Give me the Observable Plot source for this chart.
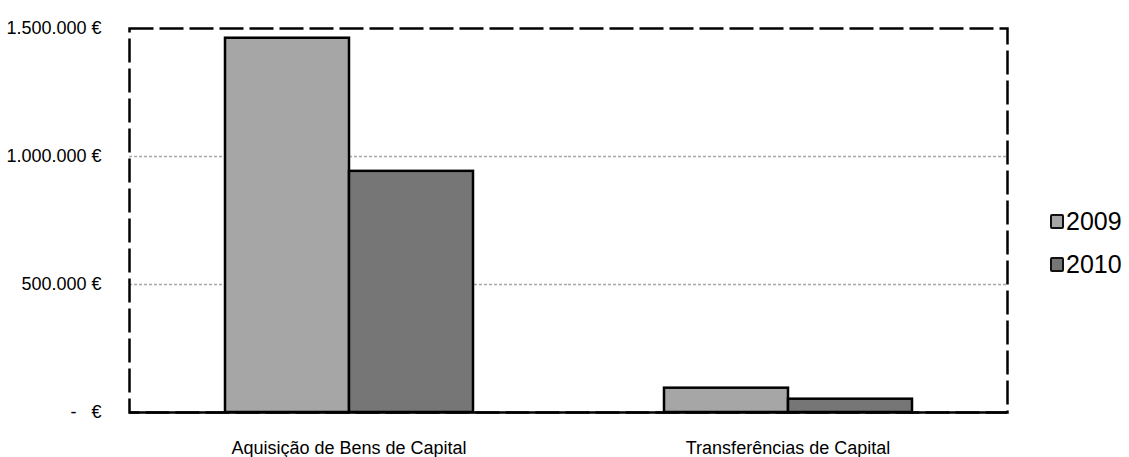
<!DOCTYPE html>
<html>
<head>
<meta charset="utf-8">
<script src="https://cdn.jsdelivr.net/npm/d3@7"></script>
<script src="https://cdn.jsdelivr.net/npm/@observablehq/plot@0.6"></script>
<style>
  html, body { margin: 0; padding: 0; background: #fff; }
  #wrap { position: relative; width: 1129px; height: 457px; }
  #legend { position: absolute; left: 1050px; top: 200px; font-family: "Liberation Sans", Arial, sans-serif; font-size: 25px; color: #000; }
  .item { display: flex; align-items: center; height: 43px; }
  .sw { width: 10px; height: 11px; border: 2.5px solid #111; border-radius: 2px; margin-right: 2px; }
</style>
</head>
<body>
<div id="wrap">
  <div id="chart"></div>
  <div id="legend"></div>
</div>
<script>
const categories = ["Aquisição de Bens de Capital", "Transferências de Capital"];
const years = ["2009", "2010"];
const values2009 = [1462000, 95000];
const values2010 = [942000, 52000];
const yTicks = [0, 500000, 1000000, 1500000];
const colors = ["#a6a6a6", "#767676"];

const data = [];
categories.forEach((c, i) => {
  data.push({category: c, year: "2009", value: values2009[i]});
  data.push({category: c, year: "2010", value: values2010[i]});
});

const fmt = d => d === 0 ? "-   €" : d3.format(",")(d).replace(/,/g, ".") + " €";
const font = "'Liberation Sans Narrow', 'Arial Narrow', 'Liberation Sans', Arial, sans-serif";

const chart = Plot.plot({
  width: 1129,
  height: 457,
  marginLeft: 128,
  marginRight: 122,
  marginTop: 28,
  marginBottom: 45,
  style: {fontFamily: font, fontSize: "18px", color: "#000", background: "#fff"},
  fx: {domain: categories, padding: 0, label: null, tickSize: 0, tickPadding: 29},
  x: {domain: years, paddingInner: 0, paddingOuter: 0.758, axis: null},
  y: {domain: [0, 1500000], ticks: yTicks, tickFormat: fmt, tickSize: 0, tickPadding: 28, label: null},
  color: {domain: years, range: colors},
  marks: [
    Plot.ruleY([500000, 1000000], {stroke: "#a8a8a8", strokeWidth: 1.5, strokeDasharray: "3,2"}),
    Plot.barY(data, {fx: "category", x: "year", y: "value", fill: "year", stroke: "#000", strokeWidth: 2.5}),
    Plot.ruleY([0], {stroke: "#000", strokeWidth: 2.5}),
    Plot.frame({facet: "super", stroke: "#000", strokeWidth: 2.5, strokeDasharray: "24,6"})
  ]
});
document.getElementById("chart").appendChild(chart);

const legend = document.getElementById("legend");
years.forEach((y, i) => {
  const item = document.createElement("div");
  item.className = "item";
  const sw = document.createElement("div");
  sw.className = "sw";
  sw.style.background = colors[i];
  const t = document.createElement("span");
  t.textContent = y;
  item.appendChild(sw);
  item.appendChild(t);
  legend.appendChild(item);
});
</script>
</body>
</html>
